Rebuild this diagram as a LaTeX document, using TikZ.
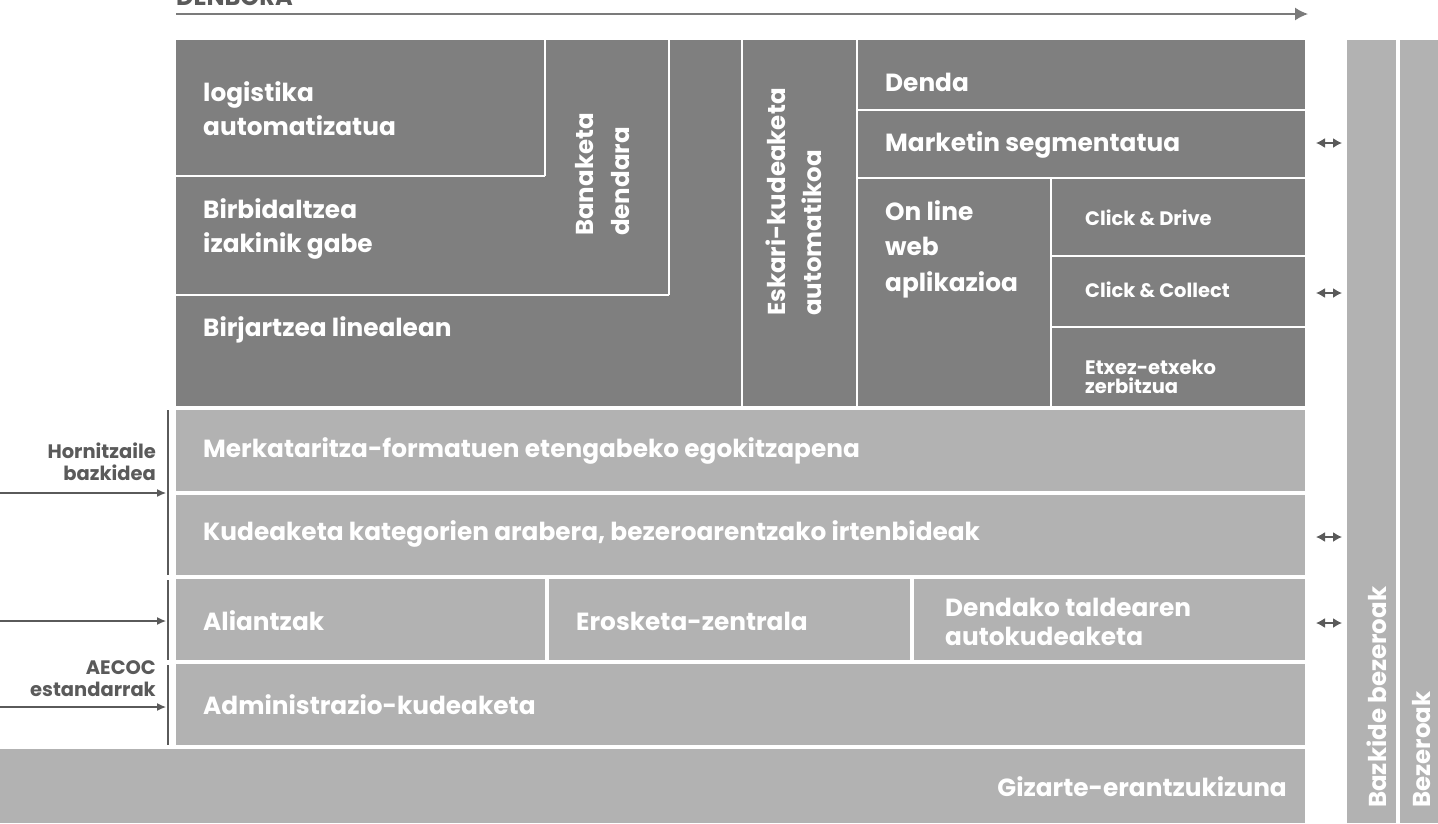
\documentclass[tikz,border=0pt]{standalone}
\usepackage{fontspec}
\setmainfont{Poppins}
\usetikzlibrary{arrows.meta}
\definecolor{dk}{HTML}{7F7F7F}
\definecolor{lt}{HTML}{B2B2B2}
\definecolor{ln}{HTML}{5A5A5A}
\begin{document}
\begin{tikzpicture}[x=1pt,y=-1pt,
  lbl/.style={text=white,font=\bfseries\fontsize{24.8}{34}\selectfont,anchor=west,align=left,inner sep=0pt},
  sml/.style={text=white,font=\bfseries\fontsize{19.5}{19}\selectfont,anchor=west,align=left,inner sep=0pt},
  vlbl/.style={lbl,rotate=90,font=\bfseries\fontsize{24.5}{36}\selectfont},
  side/.style={text=ln,font=\bfseries\fontsize{19.5}{22}\selectfont,anchor=east,align=right,inner sep=0pt},
  sep/.style={white,line width=2.5pt},
  bar/.style={ln,line width=1.5pt},
  inarrow/.style={ln,line width=1.2pt,-{Latex[length=9pt,width=8pt]}},
  dbl/.style={ln,line width=1.5pt,{Latex[length=9pt,width=10pt]}-{Latex[length=9pt,width=10pt]}},
  tl/.style={ln!80,line width=1.5pt,-{Latex[length=13pt,width=13pt]}}]
\useasboundingbox (0,0) rectangle (1438,823);
\begin{scope}
\clip (0,0) rectangle (1438,823);
\node[text=ln,font=\bfseries\fontsize{24}{28}\selectfont,anchor=base west,inner sep=0pt] (ttl) at (176,5) {DENBORA};
\end{scope}
\coordinate (t0) at (176,14);
\coordinate (t1) at (1308,14);
\draw[tl] (t0) -- (t1);
% dark block
\fill[dk] (176,40) rectangle (1305,406);
\draw[sep] (545,40) -- (545,176);
\draw[sep] (176,176) -- (545,176);
\draw[sep] (669,40) -- (669,295);
\draw[sep] (176,295) -- (669,295);
\draw[sep] (742,40) -- (742,406);
\draw[sep] (857,40) -- (857,406);
\draw[sep] (857,110) -- (1305,110);
\draw[sep] (857,178) -- (1305,178);
\draw[sep] (1051,178) -- (1051,406);
\draw[sep] (1051,256) -- (1305,256);
\draw[sep] (1051,327) -- (1305,327);
% light rows
\fill[lt] (176,410) rectangle (1305,491);
\fill[lt] (176,495) rectangle (1305,575);
\fill[lt] (176,579) rectangle (545,660);
\fill[lt] (549,579) rectangle (910,660);
\fill[lt] (914,579) rectangle (1305,660);
\fill[lt] (176,664) rectangle (1305,745);
\fill[lt] (0,749) rectangle (1305,823);
\fill[lt] (1347,40) rectangle (1396,823);
\fill[lt] (1400,40) rectangle (1438,823);
% texts dark
\node[lbl] (log) at (203,109) {logistika\\automatizatua};
\node[lbl] (bir) at (203,229) {Birbidaltzea\\izakinik gabe};
\node[lbl] (birj) at (203,330) {Birjartzea linealean};
\node[vlbl,anchor=west] (ban) at (603,236) {Banaketa\\dendara};
\node[vlbl,anchor=west] (esk) at (794,316) {Eskari-kudeaketa\\automatikoa};
\node[lbl] (den) at (885,82) {Denda};
\node[lbl] (mar) at (885,145) {Marketin segmentatua};
\node[lbl,font=\bfseries\fontsize{24.8}{35.5}\selectfont] (onl) at (885,249) {On line\\web\\aplikazioa};
\node[sml] (cd) at (1085,218) {Click \& Drive};
\node[sml] (cc) at (1085,290) {Click \& Collect};
\node[sml] (etx) at (1085,377) {Etxez-etxeko\\zerbitzua};
% texts light
\node[lbl] (mer) at (203,451) {Merkataritza-formatuen etengabeko egokitzapena};
\node[lbl] (kud) at (203,534) {Kudeaketa kategorien arabera, bezeroarentzako irtenbideak};
\node[lbl] (ali) at (203,621) {Aliantzak};
\node[lbl] (ero) at (576,621) {Erosketa-zentrala};
\node[lbl,font=\bfseries\fontsize{24.8}{29}\selectfont] (dtk) at (945,622) {Dendako taldearen\\autokudeaketa};
\node[lbl] (adm) at (203,705) {Administrazio-kudeaketa};
\node[lbl,anchor=east] (giz) at (1287,787) {Gizarte-erantzukizuna};
\node[vlbl,anchor=west] (bzb) at (1377,808) {Bazkide bezeroak};
\node[vlbl,anchor=west] (bez) at (1422,808) {Bezeroak};
% left side
\node[side] (hor) at (156,462) {Hornitzaile\\bazkidea};
\node[side] (aec) at (156,679) {AECOC\\estandarrak};
\coordinate (b1a) at (168,410); \coordinate (b1b) at (168,575);
\coordinate (b2a) at (168,580); \coordinate (b2b) at (168,660);
\coordinate (b3a) at (168,665); \coordinate (b3b) at (168,745);
\draw[bar] (b1a) -- (b1b);
\draw[bar] (b2a) -- (b2b);
\draw[bar] (b3a) -- (b3b);
\coordinate (a1s) at (0,493); \coordinate (a1e) at (166,493);
\coordinate (a2s) at (0,621); \coordinate (a2e) at (166,621);
\coordinate (a3s) at (0,707); \coordinate (a3e) at (166,707);
\draw[inarrow] (a1s) -- (a1e);
\draw[inarrow] (a2s) -- (a2e);
\draw[inarrow] (a3s) -- (a3e);
% double arrows
\coordinate (d1a) at (1316,143); \coordinate (d1b) at (1342,143);
\coordinate (d2a) at (1316,293); \coordinate (d2b) at (1342,293);
\coordinate (d3a) at (1316,537); \coordinate (d3b) at (1342,537);
\coordinate (d4a) at (1316,623); \coordinate (d4b) at (1342,623);
\draw[dbl] (d1a) -- (d1b);
\draw[dbl] (d2a) -- (d2b);
\draw[dbl] (d3a) -- (d3b);
\draw[dbl] (d4a) -- (d4b);
\end{tikzpicture}
\end{document}
